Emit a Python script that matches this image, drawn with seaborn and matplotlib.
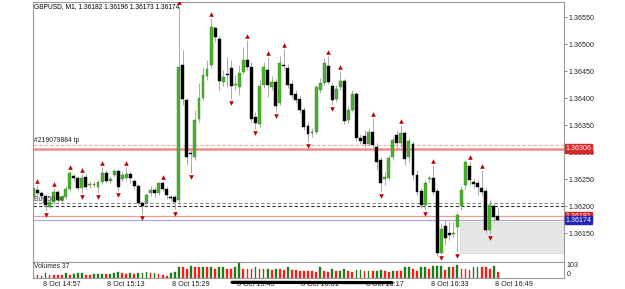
import numpy as np
import pandas as pd
import matplotlib
matplotlib.use("Agg")
import matplotlib.pyplot as plt
import matplotlib.transforms as mtransforms
from matplotlib.patches import Rectangle
import seaborn as sns

# GBPUSD M1 bars, first bar 14:50
first_bar = "2020-10-08 14:50"
opens = [1.36217, 1.36230, 1.36224, 1.36219, 1.36198, 1.36207, 1.36226, 1.36211, 1.36217, 1.36231,
         1.36256, 1.36252, 1.36233, 1.36254, 1.36239, 1.36239, 1.36235, 1.36244, 1.36261, 1.36246,
         1.36257, 1.36265, 1.36250, 1.36252, 1.36259, 1.36246, 1.36237, 1.36206, 1.36206, 1.36224,
         1.36230, 1.36224, 1.36243, 1.36231, 1.36217, 1.36217, 1.36211, 1.36461, 1.36396, 1.36298,
         1.36291, 1.36361, 1.36400, 1.36441, 1.36461, 1.36530, 1.36509, 1.36430, 1.36444, 1.36456,
         1.36424, 1.36420, 1.36448, 1.36470, 1.36457, 1.36365, 1.36352, 1.36424, 1.36452, 1.36420,
         1.36430, 1.36391, 1.36461, 1.36456, 1.36426, 1.36407, 1.36398, 1.36378, 1.36348, 1.36335,
         1.36337, 1.36415, 1.36428, 1.36459, 1.36422, 1.36398, 1.36420, 1.36431, 1.36359, 1.36378,
         1.36407, 1.36326, 1.36330, 1.36315, 1.36337, 1.36309, 1.36285, 1.36250, 1.36252, 1.36291,
         1.36331, 1.36317, 1.36335, 1.36291, 1.36315, 1.36257, 1.36228, 1.36202, 1.36250, 1.36252,
         1.36228, 1.36113, 1.36163, 1.36150, 1.36148, 1.36161, 1.36200, 1.36239, 1.36274, 1.36244,
         1.36243, 1.36233, 1.36228, 1.36156, 1.36200, 1.36182]
highs = [1.36239, 1.36239, 1.36228, 1.36222, 1.36213, 1.36233, 1.36230, 1.36220, 1.36237, 1.36265,
         1.36259, 1.36256, 1.36259, 1.36259, 1.36246, 1.36244, 1.36248, 1.36272, 1.36267, 1.36256,
         1.36268, 1.36268, 1.36263, 1.36272, 1.36263, 1.36250, 1.36241, 1.36209, 1.36224, 1.36237,
         1.36235, 1.36244, 1.36246, 1.36237, 1.36220, 1.36220, 1.36569, 1.36489, 1.36400, 1.36307,
         1.36378, 1.36428, 1.36457, 1.36470, 1.36548, 1.36533, 1.36515, 1.36452, 1.36476, 1.36470,
         1.36443, 1.36461, 1.36494, 1.36507, 1.36467, 1.36374, 1.36433, 1.36467, 1.36476, 1.36441,
         1.36435, 1.36478, 1.36491, 1.36463, 1.36433, 1.36415, 1.36406, 1.36383, 1.36356, 1.36344,
         1.36424, 1.36437, 1.36474, 1.36478, 1.36428, 1.36424, 1.36450, 1.36435, 1.36387, 1.36415,
         1.36411, 1.36333, 1.36341, 1.36344, 1.36363, 1.36317, 1.36291, 1.36263, 1.36294, 1.36328,
         1.36341, 1.36350, 1.36339, 1.36326, 1.36320, 1.36267, 1.36233, 1.36248, 1.36257, 1.36276,
         1.36233, 1.36169, 1.36174, 1.36170, 1.36170, 1.36189, 1.36237, 1.36285, 1.36283, 1.36252,
         1.36248, 1.36267, 1.36233, 1.36211, 1.36206, 1.36196]
lows = [1.36213, 1.36220, 1.36215, 1.36191, 1.36196, 1.36204, 1.36207, 1.36206, 1.36213, 1.36228,
        1.36246, 1.36230, 1.36224, 1.36231, 1.36233, 1.36235, 1.36224, 1.36241, 1.36243, 1.36243,
        1.36254, 1.36228, 1.36246, 1.36248, 1.36243, 1.36231, 1.36202, 1.36185, 1.36202, 1.36219,
        1.36217, 1.36220, 1.36228, 1.36213, 1.36209, 1.36194, 1.36204, 1.36387, 1.36276, 1.36261,
        1.36285, 1.36356, 1.36396, 1.36433, 1.36456, 1.36504, 1.36415, 1.36422, 1.36420, 1.36398,
        1.36415, 1.36406, 1.36444, 1.36452, 1.36354, 1.36343, 1.36346, 1.36419, 1.36402, 1.36415,
        1.36374, 1.36387, 1.36452, 1.36419, 1.36400, 1.36391, 1.36372, 1.36341, 1.36319, 1.36328,
        1.36333, 1.36409, 1.36424, 1.36426, 1.36387, 1.36393, 1.36415, 1.36352, 1.36354, 1.36374,
        1.36320, 1.36315, 1.36309, 1.36311, 1.36307, 1.36267, 1.36226, 1.36239, 1.36248, 1.36285,
        1.36307, 1.36309, 1.36276, 1.36281, 1.36248, 1.36220, 1.36196, 1.36193, 1.36243, 1.36220,
        1.36107, 1.36111, 1.36128, 1.36137, 1.36143, 1.36115, 1.36193, 1.36230, 1.36239, 1.36233,
        1.36220, 1.36219, 1.36150, 1.36148, 1.36170, 1.36173]
closes = [1.36233, 1.36224, 1.36219, 1.36202, 1.36207, 1.36226, 1.36211, 1.36217, 1.36231, 1.36261,
          1.36252, 1.36233, 1.36252, 1.36235, 1.36240, 1.36241, 1.36244, 1.36261, 1.36246, 1.36250,
          1.36265, 1.36235, 1.36257, 1.36259, 1.36252, 1.36237, 1.36206, 1.36200, 1.36220, 1.36230,
          1.36224, 1.36243, 1.36231, 1.36220, 1.36215, 1.36207, 1.36457, 1.36398, 1.36291, 1.36296,
          1.36359, 1.36400, 1.36443, 1.36454, 1.36531, 1.36513, 1.36431, 1.36439, 1.36443, 1.36422,
          1.36425, 1.36446, 1.36470, 1.36457, 1.36361, 1.36354, 1.36422, 1.36457, 1.36424, 1.36430,
          1.36385, 1.36465, 1.36459, 1.36424, 1.36406, 1.36396, 1.36378, 1.36346, 1.36333, 1.36337,
          1.36420, 1.36428, 1.36465, 1.36430, 1.36396, 1.36417, 1.36431, 1.36357, 1.36378, 1.36407,
          1.36326, 1.36320, 1.36315, 1.36337, 1.36313, 1.36281, 1.36243, 1.36254, 1.36289, 1.36322,
          1.36317, 1.36335, 1.36287, 1.36320, 1.36257, 1.36226, 1.36202, 1.36243, 1.36251, 1.36226,
          1.36113, 1.36157, 1.36141, 1.36146, 1.36150, 1.36183, 1.36230, 1.36281, 1.36248, 1.36241,
          1.36235, 1.36226, 1.36156, 1.36202, 1.36180, 1.36174]
volumes = [21, 19, 13, 34, 21, 19, 18, 17, 30, 17,
           28, 30, 31, 19, 18, 24, 25, 28, 24, 28,
           36, 37, 30, 24, 30, 24, 34, 36, 37, 30,
           32, 28, 21, 15, 36, 39, 73, 72, 56, 82,
           73, 69, 70, 69, 70, 58, 69, 70, 60, 58,
           69, 103, 62, 60, 59, 69, 58, 59, 60, 52,
           58, 56, 52, 69, 52, 51, 47, 45, 44, 43,
           42, 69, 47, 41, 58, 45, 47, 56, 45, 41,
           52, 53, 45, 47, 45, 47, 52, 47, 41, 47,
           43, 43, 69, 70, 62, 47, 69, 70, 62, 77,
           79, 80, 52, 69, 69, 84, 62, 60, 52, 73,
           74, 73, 69, 62, 77, 37]

# fractal arrows (bar numbers)
up_fractals = [1, 5, 9, 12, 17, 23, 32, 36, 44, 53, 58, 62, 73, 76, 84, 91, 99, 108, 111]
down_fractals = [3, 12, 16, 21, 27, 35, 39, 49, 55, 60, 68, 74, 86, 97, 101, 105, 113]

time_labels = ["14:57", "15:13", "15:29", "15:45", "16:01", "16:17", "16:33", "16:49"]
price_ticks = [1.36150, 1.36200, 1.36250, 1.36300, 1.36350, 1.36400, 1.36450, 1.36500, 1.36550]

tp_level = 1.36313
hline_level = 1.36306
sl_level = 1.36205
order_level = 1.36200
ask_level = 1.36181
bid_level = 1.36174
box_start, box_top, box_bottom = 105.6, 1.36170, 1.36113

sns.set_style("white")
plt.rcParams['font.family'] = ['Liberation Sans', 'DejaVu Sans']

o = np.array(opens); h = np.array(highs); l = np.array(lows); c = np.array(closes)
idx = np.arange(len(o))
t0 = pd.Timestamp(first_bar)
tick_pos = [(pd.Timestamp("2020-10-08 " + t) - t0) / pd.Timedelta("1min") for t in time_labels]

fig = plt.figure(figsize=(6.25, 2.89), dpi=100)
ax = fig.add_axes([33 / 625, 1 - 262 / 289, 531 / 625, 260 / 289])
axv = fig.add_axes([33 / 625, 1 - 278 / 289, 531 / 625, 16 / 289])
xmax = 131.4

# candles
up = c >= o
ax.vlines(idx, l, h, color="#a9a9a9", lw=0.7, zorder=2)
bot = np.minimum(o, c)
hgt = np.maximum(np.abs(c - o), 0.000014)
ax.bar(idx[up], hgt[up], bottom=bot[up], width=0.72, color="#4cb02c",
       edgecolor="#2f8a1a", linewidth=0.3, zorder=3)
ax.bar(idx[~up], hgt[~up], bottom=bot[~up], width=0.72, color="black",
       edgecolor="black", linewidth=0.3, zorder=3)

sns.scatterplot(x=up_fractals, y=h[up_fractals] + 0.00008, marker="^", s=11,
                color="#c00000", linewidth=0, ax=ax, legend=False, zorder=4)
sns.scatterplot(x=down_fractals, y=l[down_fractals] - 0.00008, marker="v", s=11,
                color="#c00000", linewidth=0, ax=ax, legend=False, zorder=4)

# trade / price lines
ax.add_patch(Rectangle((box_start, box_bottom), xmax - box_start, box_top - box_bottom,
                       facecolor="#e6e6e6", edgecolor="#d2d2d2", lw=0.5, zorder=1))
ax.axhline(tp_level, color="#f2a9a9", lw=0.8, ls=(0, (3, 2)), zorder=1)
ax.axhline(hline_level, color="#ee8c8c", lw=1.8, zorder=1)
ax.axhline(sl_level, color="#888888", lw=0.8, ls=(0, (3, 2)), zorder=1)
ax.axhline(order_level, color="#333333", lw=0.8, ls=(0, (3, 2)), zorder=1)
ax.axhline(ask_level, color="#f09a9a", lw=0.9, zorder=1)
ax.axhline(bid_level, color="#a3a3e6", lw=0.8, zorder=1)

tr = mtransforms.blended_transform_factory(ax.transAxes, ax.transData)
ax.text(0.002, tp_level + 0.00002, "#219079884 tp", transform=tr, fontsize=4.9,
        va="bottom", ha="left", color="#222222")
ax.text(0.002, sl_level + 0.00001, "Buy 50.00", transform=tr, fontsize=4.9,
        va="bottom", ha="left", color="#333333")
ax.text(0.002, 0.981, "GBPUSD, M1, 1.36182 1.36196 1.36173 1.36174", transform=ax.transAxes,
        fontsize=4.8, va="center", ha="left", color="black", zorder=6)

# price tags on the scale (they cover the ticks below them, as in the terminal)
for lev, col in [(hline_level, "#d92626"), (ask_level, "#d92626"), (bid_level, "#2424b4")]:
    ax.text(1.003, lev, f"{lev:.5f}", transform=tr, fontsize=5.1, va="center", ha="left",
            color="white", clip_on=False, zorder=7,
            bbox=dict(boxstyle="square,pad=0.12", fc=col, ec=col))

ax.set_xlim(-0.1, xmax)
ax.set_ylim(1.360963, 1.365778)
ax.yaxis.tick_right()
ax.set_yticks(price_ticks)
ax.set_yticklabels([f"{p:.5f}" for p in price_ticks])
ax.set_xticks([])
ax.tick_params(axis="y", length=2.5, width=0.6, pad=1, labelsize=5.1,
               color="#777777", labelcolor="#222222", right=True, left=False)

# volume pane
vol_dir = ["up"] + ["up" if volumes[i] > volumes[i - 1] else "down" for i in range(1, len(volumes))]
vdf = pd.DataFrame({"bar": idx, "volume": volumes, "dir": vol_dir})
sns.barplot(data=vdf, x="bar", y="volume", hue="dir", palette={"up": "#1c7c1c", "down": "#ff1a1a"},
            native_scale=True, width=0.45, errorbar=None, legend=False, dodge=False,
            saturation=1, ax=axv)
for p in axv.patches:
    p.set_edgecolor(p.get_facecolor())
    p.set_linewidth(0.25)
axv.set_xlim(-0.1, xmax)
axv.set_ylim(0, max(volumes) * 1.02)
axv.yaxis.tick_right()
axv.set_yticks([0, max(volumes)])
axv.set_yticklabels(["0", str(max(volumes))])
labs = axv.get_yticklabels()
labs[0].set_va("bottom")
labs[1].set_va("top")
axv.tick_params(axis="y", length=0, pad=2, labelsize=5.1, labelcolor="#222222",
                right=True, left=False)
axv.set_xticks(tick_pos)
axv.set_xticklabels(["8 Oct " + t for t in time_labels])
axv.tick_params(axis="x", length=0, pad=2.2, labelsize=5.2, labelcolor="#222222")
axv.set_xlabel("")
axv.set_ylabel("")
ax.set_ylabel("")
axv.text(0.002, 0.75, f"Volumes {volumes[-1]}", transform=axv.transAxes, fontsize=4.9,
         va="center", ha="left", color="#222222")

# marker scribble over part of the time scale
trv = mtransforms.blended_transform_factory(axv.transData, axv.transAxes)
axv.plot([49.2, 88.8], [-0.27, -0.29], color="black", lw=2.3, solid_capstyle="round",
         transform=trv, clip_on=False, zorder=8)

for a in (ax, axv):
    for s in a.spines.values():
        s.set_color("#9c9c9c")
        s.set_linewidth(0.8)

fig.savefig("out.png", dpi=100)
